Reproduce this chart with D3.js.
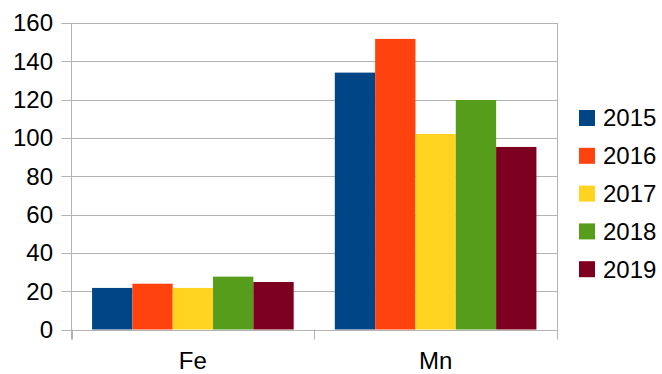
<!DOCTYPE html>
<html>
<head>
<meta charset="utf-8">
<script src="https://cdn.jsdelivr.net/npm/d3@7"></script>
<style>
  html, body { margin: 0; padding: 0; background: #fff; }
  svg { display: block; font-family: "Liberation Sans", Arial, sans-serif; }
</style>
</head>
<body>
<svg id="chart" width="662" height="374"></svg>
<script>
// Element concentrations per year
const categories = ["Fe", "Mn"];
const years = ["2015", "2016", "2017", "2018", "2019"];
const colors = ["#004586", "#ff420e", "#ffd320", "#579d1c", "#7e0021"];
const values = {
  "2015": [21.7, 134.1],
  "2016": [23.9, 151.7],
  "2017": [21.7, 102.1],
  "2018": [27.6, 119.8],
  "2019": [24.8, 95.3]
};
const yTicks = [0, 20, 40, 60, 80, 100, 120, 140, 160];

const svg = d3.select("#chart");
const plot = { left: 71.5, right: 557, top: 23, bottom: 329.5 };

const x0 = d3.scaleBand().domain(categories).range([plot.left, plot.right]).paddingInner(0).paddingOuter(0);
const x1 = d3.scaleBand().domain(years).range([0, x0.bandwidth()]).paddingInner(0).paddingOuter(0.51);
const y = d3.scaleLinear().domain([0, 160]).range([plot.bottom, plot.top]);
const color = d3.scaleOrdinal().domain(years).range(colors);

const gridColor = "#b3b3b3";

// horizontal gridlines
svg.append("g")
  .selectAll("line")
  .data(yTicks)
  .join("line")
  .attr("x1", plot.left - 10)
  .attr("x2", plot.right)
  .attr("y1", d => Math.round(y(d)) + 0.5)
  .attr("y2", d => Math.round(y(d)) + 0.5)
  .attr("stroke", gridColor)
  .attr("stroke-width", 1);

// right border of plot area
svg.append("line")
  .attr("x1", plot.right + 0.5).attr("x2", plot.right + 0.5)
  .attr("y1", plot.top).attr("y2", plot.bottom)
  .attr("stroke", gridColor);

// y axis labels
svg.append("g")
  .selectAll("text")
  .data(yTicks)
  .join("text")
  .attr("x", 53)
  .attr("y", d => y(d))
  .attr("dy", "0.35em")
  .attr("text-anchor", "end")
  .attr("font-size", 24)
  .attr("fill", "#000")
  .text(d => d);

// bars
const groups = svg.append("g")
  .selectAll("g")
  .data(categories)
  .join("g")
  .attr("transform", d => `translate(${x0(d)},0)`);

groups.selectAll("rect")
  .data((c, i) => years.map(yr => ({ yr, v: values[yr][i] })))
  .join("rect")
  .attr("x", d => x1(d.yr))
  .attr("width", x1.bandwidth())
  .attr("y", d => y(d.v))
  .attr("height", d => y(0) - y(d.v))
  .attr("fill", d => color(d.yr));

// y axis line
svg.append("line")
  .attr("x1", plot.left).attr("x2", plot.left)
  .attr("y1", plot.top).attr("y2", plot.bottom + 10)
  .attr("stroke", gridColor);

// x axis line and category ticks
svg.append("line")
  .attr("x1", plot.left).attr("x2", plot.right)
  .attr("y1", Math.round(plot.bottom) + 0.5).attr("y2", Math.round(plot.bottom) + 0.5)
  .attr("stroke", gridColor);

const tickXs = categories.map(c => x0(c)).concat([plot.right]);
svg.append("g")
  .selectAll("line")
  .data(tickXs)
  .join("line")
  .attr("x1", d => Math.round(d) + 0.5)
  .attr("x2", d => Math.round(d) + 0.5)
  .attr("y1", plot.bottom)
  .attr("y2", plot.bottom + 10)
  .attr("stroke", gridColor);

// category labels
svg.append("g")
  .selectAll("text")
  .data(categories)
  .join("text")
  .attr("x", d => x0(d) + x0.bandwidth() / 2)
  .attr("y", 369)
  .attr("text-anchor", "middle")
  .attr("font-size", 24)
  .attr("fill", "#000")
  .text(d => d);

// legend
const legend = svg.append("g")
  .selectAll("g")
  .data(years)
  .join("g")
  .attr("transform", (d, i) => `translate(579,${118 + i * 37.8})`);

legend.append("rect")
  .attr("x", 0).attr("y", -8)
  .attr("width", 16).attr("height", 16)
  .attr("fill", d => color(d));

legend.append("text")
  .attr("x", 24)
  .attr("y", 0)
  .attr("dy", "0.35em")
  .attr("font-size", 24)
  .attr("fill", "#000")
  .text(d => d);
</script>
</body>
</html>
